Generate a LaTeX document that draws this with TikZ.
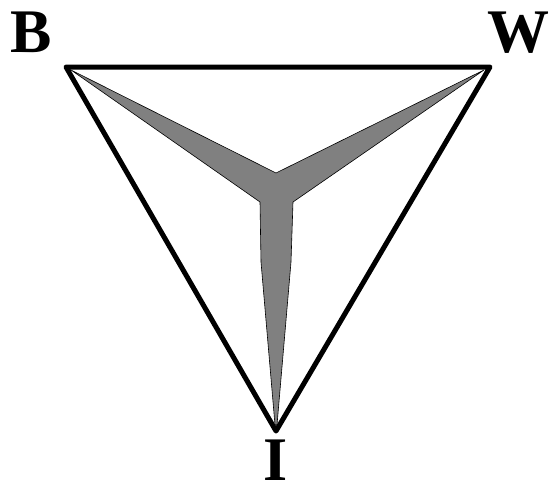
\documentclass[tikz,border=0pt]{standalone}
\usepackage{fontspec}
\setmainfont{Liberation Serif}
\definecolor{figG}{RGB}{128,128,128}

\begin{document}
\begin{tikzpicture}[x=1pt,y=-1pt,lbl/.style={font=\fontsize{62}{62}\selectfont\bfseries,inner sep=0pt}]
\useasboundingbox (0,0) rectangle (551,490);
\coordinate (B) at (66,67); \coordinate (W) at (490,67); \coordinate (I) at (276,431);
\coordinate (C) at (276,173); \coordinate (L) at (260,202); \coordinate (R) at (293,202);
\fill[figG,draw=black,line width=0.6pt] (71,70)--(C)--(484,70)--(R)--(291,262)--(277,425)--(275,425)--(261,262)--(L)--cycle;
\draw[line width=5pt,line join=round] (B)--(W)--(I)--cycle;
\node[lbl] (lB) at (31,32) {B};
\node[lbl] (lW) at (518,33) {W};
\node[lbl] (lI) at (276,460) {I};
\end{tikzpicture}
\end{document}
